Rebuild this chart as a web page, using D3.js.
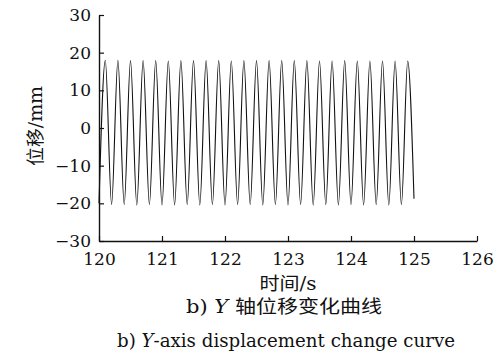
<!DOCTYPE html>
<html>
<head>
<meta charset="utf-8">
<script src="https://cdn.jsdelivr.net/npm/d3@7"></script>
<style>
  body { margin: 0; background: #fff; }
  svg text { font-family: "DejaVu Serif", "Noto Sans CJK SC", serif; fill: #111; }
</style>
</head>
<body>
<div id="chart"></div>
<script>
// time of each trough and crest (s)
const troughTimes = [120.0, 120.2, 120.4, 120.6, 120.8, 121.0, 121.2, 121.4, 121.6, 121.8,
  122.0, 122.2, 122.4, 122.6, 122.8, 123.0, 123.2, 123.4, 123.6, 123.8,
  124.0, 124.2, 124.4, 124.6, 124.8, 125.0];
const troughValues = [-20.0, -20.3, -20.3, -20.4, -20.3, -20.4, -20.4, -20.3, -20.4, -20.3,
  -20.4, -20.3, -20.3, -20.4, -20.3, -20.4, -20.3, -20.4, -20.3, -20.4,
  -20.3, -20.4, -20.3, -20.4, -20.3, -18.8];
const crestTimes = [120.1, 120.3, 120.5, 120.7, 120.9, 121.1, 121.3, 121.5, 121.7, 121.9,
  122.1, 122.3, 122.5, 122.7, 122.9, 123.1, 123.3, 123.5, 123.7, 123.9,
  124.1, 124.3, 124.5, 124.7, 124.9];
const crestValues = [18.0, 18.0, 17.9, 17.9, 17.9, 17.8, 17.9, 17.9, 17.9, 17.9,
  17.8, 17.9, 17.9, 17.9, 17.9, 17.9, 17.9, 17.8, 17.8, 17.9,
  17.8, 17.8, 17.8, 17.8, 17.8];

const xTicks = [120, 121, 122, 123, 124, 125, 126];
const yTicks = [-30, -20, -10, 0, 10, 20, 30];

const W = 494, H = 354;
const margin = { top: 15, right: 17, bottom: 113, left: 99 };
const width = W - margin.left - margin.right;
const height = H - margin.top - margin.bottom;

const points = [];
troughTimes.forEach((t, i) => {
  points.push({ t: t, v: troughValues[i] });
  if (i < crestTimes.length) points.push({ t: crestTimes[i], v: crestValues[i] });
});

const svg = d3.select('#chart').append('svg')
  .attr('width', W)
  .attr('height', H);

const chart = svg.append('g')
  .attr('transform', `translate(${margin.left},${margin.top})`);

const xScale = d3.scaleLinear().domain([120, 126]).range([0, width]);
const yScale = d3.scaleLinear().domain([-30, 30]).range([height, 0]);

const minus = d => (d < 0 ? '\u2212' + Math.abs(d) : String(d));

const xaxis = d3.axisBottom(xScale)
  .tickValues(xTicks)
  .tickSizeInner(-5)
  .tickSizeOuter(0)
  .tickPadding(12)
  .tickFormat(d => d);

const yaxis = d3.axisLeft(yScale)
  .tickValues(yTicks)
  .tickSizeInner(-5)
  .tickSizeOuter(0)
  .tickPadding(8)
  .tickFormat(minus);

// signal
const line = d3.line()
  .x(d => xScale(d.t))
  .y(d => yScale(d.v))
  .curve(d3.curveMonotoneX);

chart.append('path')
  .datum(points)
  .attr('fill', 'none')
  .attr('stroke', '#111')
  .attr('stroke-width', 1.1)
  .attr('d', line);

const gx = chart.append('g')
  .attr('transform', `translate(0,${height})`)
  .call(xaxis);

const gy = chart.append('g')
  .call(yaxis);

[gx, gy].forEach(g => {
  g.attr('font-family', null);
  g.select('.domain').attr('stroke', '#111').attr('stroke-width', 1.4);
  g.selectAll('.tick line').attr('stroke', '#111').attr('stroke-width', 1.2);
  g.selectAll('.tick text')
    .style('font-size', '17px')
    .attr('fill', '#111');
});

// labels
chart.append('text')
  .attr('transform', `translate(-62,${height / 2 - 2}) rotate(-90)`)
  .attr('text-anchor', 'middle')
  .attr('dominant-baseline', 'middle')
  .attr('textLength', 80)
  .attr('lengthAdjust', 'spacingAndGlyphs')
  .style('font-size', '18px')
  .text('位移/mm');

chart.append('text')
  .attr('x', width / 2)
  .attr('y', height + 49)
  .attr('text-anchor', 'middle')
  .attr('textLength', 57)
  .attr('lengthAdjust', 'spacingAndGlyphs')
  .style('font-size', '18px')
  .text('时间/s');

const cap1 = chart.append('text')
  .attr('x', width / 2 - 4)
  .attr('y', height + 72)
  .attr('text-anchor', 'middle')
  .attr('textLength', 196)
  .attr('lengthAdjust', 'spacingAndGlyphs')
  .style('font-size', '18px');
cap1.append('tspan').text('b) ');
cap1.append('tspan').style('font-style', 'italic').text('Y');
cap1.append('tspan').text(' 轴位移变化曲线');

const cap2 = chart.append('text')
  .attr('x', width / 2 - 2)
  .attr('y', height + 106)
  .attr('text-anchor', 'middle')
  .attr('textLength', 338)
  .attr('lengthAdjust', 'spacingAndGlyphs')
  .style('font-size', '18px');
cap2.append('tspan').text('b) ');
cap2.append('tspan').style('font-style', 'italic').text('Y');
cap2.append('tspan').text('-axis displacement change curve');
</script>
</body>
</html>
